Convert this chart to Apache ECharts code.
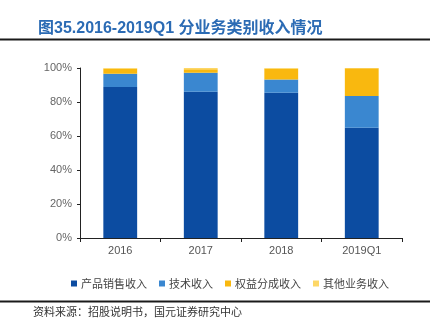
<!DOCTYPE html>
<html><head><meta charset="utf-8">
<script src="https://cdn.jsdelivr.net/npm/echarts@6/dist/echarts.min.js"></script>
<style>html,body{margin:0;padding:0;background:#fff}#c{width:442px;height:335px}</style>
</head><body><div id="c"></div>
<script>
const categories = ['2016', '2017', '2018', '2019Q1'];
const seriesNames = ['产品销售收入', '技术收入', '权益分成收入', '其他业务收入'];
const productSales = [88.8, 86.0, 85.4, 64.9];
const techIncome = [7.8, 11.2, 7.9, 18.6];
const royaltyIncome = [2.9, 2.1, 6.2, 16.3];
const otherIncome = [0.5, 0.7, 0.5, 0.2];
const yTicks = [0, 20, 40, 60, 80, 100];
const colors = ['#0c4ca1', '#3a87d0', '#f9b80f', '#fdd766'];

const values = [productSales, techIncome, royaltyIncome, otherIncome];
const chart = echarts.init(document.getElementById('c'), null, {renderer: 'canvas'});
chart.setOption({
  animation: false,
  title: {
    text: '图35.2016-2019Q1 分业务类别收入情况',
    left: 33, top: 16,
    textStyle: {color: '#2b6bb4', fontSize: 16, fontWeight: 'bold', fontFamily: '"Liberation Sans", "Noto Sans CJK SC", sans-serif'}
  },
  graphic: [
    {type: 'rect', shape: {x: 0, y: 38.5, width: 430, height: 2}, style: {fill: '#1a1a1a'}},
    {type: 'rect', shape: {x: 0, y: 300.5, width: 430, height: 2}, style: {fill: '#1a1a1a'}},
    {type: 'text', left: 33, top: 306, style: {text: '资料来源：招股说明书，国元证券研究中心', fill: '#333', font: '11px "Noto Sans CJK SC"'}}
  ],
  legend: {
    data: seriesNames,
    left: 66, top: 273,
    itemWidth: 6, itemHeight: 6, itemGap: 12,
    icon: 'rect',
    textStyle: {fontSize: 11, color: '#444', fontFamily: '"Noto Sans CJK SC"', padding: [0, 0, 0, -1]}
  },
  grid: {left: 80, right: 40, top: 68, bottom: 97},
  xAxis: {
    type: 'category', data: categories,
    axisLine: {lineStyle: {color: '#222', width: 1}},
    axisTick: {show: true, alignWithLabel: false, length: 4, lineStyle: {color: '#222'}},
    axisLabel: {color: '#555', fontSize: 11, fontFamily: 'Liberation Sans', margin: 7}
  },
  yAxis: {
    type: 'value', min: 0, max: 100, interval: 20,
    axisLine: {show: true, lineStyle: {color: '#222', width: 1}},
    axisTick: {show: true, length: 3, lineStyle: {color: '#222'}},
    splitLine: {show: false},
    axisLabel: {color: '#666', fontSize: 11, fontFamily: 'Liberation Sans', margin: 8,
      formatter: v => yTicks.includes(v) ? v + '%' : ''}
  },
  series: seriesNames.map((name, i) => ({
    name, type: 'bar', stack: 'total', data: values[i],
    barWidth: '42%',
    itemStyle: {color: colors[i]}
  }))
});
</script></body></html>
